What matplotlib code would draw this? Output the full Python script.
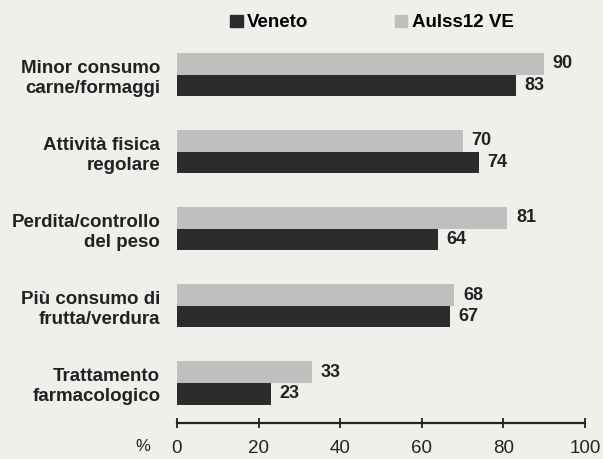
import matplotlib
matplotlib.use("Agg")
import matplotlib.pyplot as plt
from matplotlib.patches import Patch

categories = ["Minor consumo\ncarne/formaggi", "Attività fisica\nregolare",
              "Perdita/controllo\ndel peso", "Più consumo di\nfrutta/verdura",
              "Trattamento\nfarmacologico"]
aulss = [90, 70, 81, 68, 33]
veneto = [83, 74, 64, 67, 23]
xticks = [0, 20, 40, 60, 80, 100]

plt.rcParams['font.family'] = ['Liberation Sans', 'DejaVu Sans']

bg = '#efefec'
dark = '#2b2b2b'
light = '#bfbfbd'
txt = '#222222'

fig = plt.figure(figsize=(6.03, 4.59), dpi=100, facecolor=bg)
ax = fig.add_axes([0.2935, 0.0784, 0.6765, 0.8214], facecolor=bg)

h = 0.28
for i in range(len(categories)):
    ax.barh(i - h / 2, aulss[i], height=h, color=light)
    ax.barh(i + h / 2, veneto[i], height=h, color=dark)
    ax.text(aulss[i] + 2.1, i - h / 2, str(aulss[i]), va='center', ha='left',
            fontsize=13, fontweight='bold', color=txt)
    ax.text(veneto[i] + 2.1, i + h / 2, str(veneto[i]), va='center', ha='left',
            fontsize=13, fontweight='bold', color=txt)

ax.set_xlim(0, 100)
ax.set_ylim(4.52, -0.37)
ax.set_yticks(range(len(categories)))
ax.set_yticklabels(categories, fontsize=13.5, fontweight='bold', color=txt,
                   linespacing=1.25)
ax.tick_params(axis='y', length=0, pad=12)
ax.set_xticks(xticks)
ax.set_xticklabels([str(t) for t in xticks], fontsize=13.5, color=txt)
ax.tick_params(axis='x', direction='inout', length=7, width=1.3, pad=9, color=txt)
for s in ['top', 'right', 'left']:
    ax.spines[s].set_visible(False)
ax.spines['bottom'].set_linewidth(1.6)
ax.spines['bottom'].set_color(txt)

fig.text(0.237, 0.027, "%", fontsize=12, color=txt, ha='center', va='center')

handles = [Patch(color=dark, label='Veneto'), Patch(color=light, label='Aulss12 VE')]
fig.legend(handles=handles, loc='center', bbox_to_anchor=(0.617, 0.95), ncol=2,
           frameon=False, prop={'weight': 'bold', 'size': 13.5}, handlelength=0.65,
           handleheight=0.65, handletextpad=0.25, columnspacing=4.6)

fig.savefig("out.png", dpi=100, facecolor=bg)
